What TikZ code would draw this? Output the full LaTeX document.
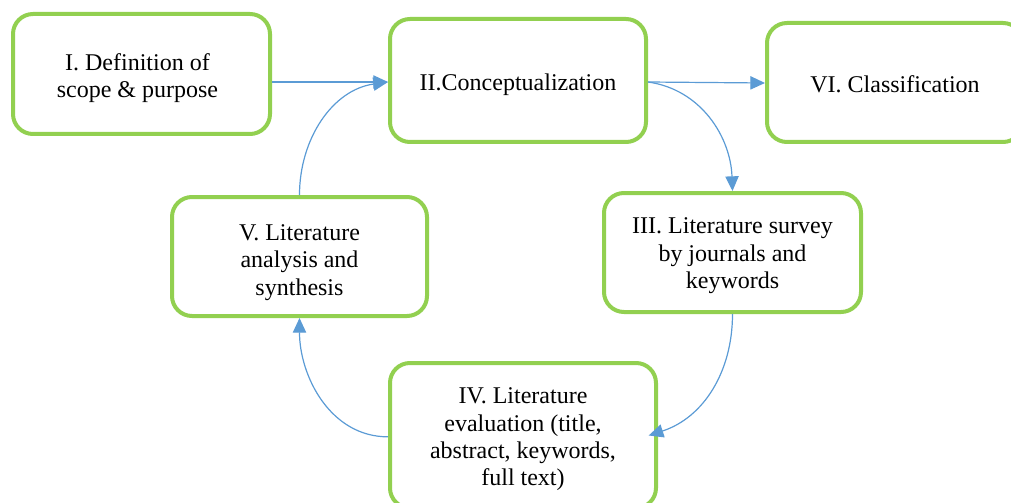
\documentclass[tikz,border=0pt]{standalone}
\usepackage{fontspec}
\setmainfont{Liberation Serif}
\usetikzlibrary{arrows.meta}
\definecolor{boxgreen}{HTML}{92D050}
\definecolor{arrowblue}{HTML}{5B9BD5}
\begin{document}
\begin{tikzpicture}[x=0.75pt,y=-0.75pt,
  stepbox/.style={draw=boxgreen, line width=3pt, rounded corners=15pt, fill=white, inner sep=0pt},
  steptext/.style={align=center, inner sep=0pt, font=\fontsize{18}{20.5}\selectfont},
  flow/.style={draw=arrowblue, line width=0.9pt, -{Triangle[length=11pt,width=10pt]}}]
\useasboundingbox (0,0) rectangle (1011,503);
\clip (0,0) rectangle (1011,503);
\node[stepbox, minimum width=192.75pt, minimum height=90pt] (I) at (141.5,74) {};
\node[stepbox, minimum width=192pt, minimum height=92.25pt] (II) at (518,80.5) {};
\node[stepbox, minimum width=192pt, minimum height=89.25pt] (VI) at (895,82.5) {};
\node[stepbox, minimum width=191.25pt, minimum height=89.25pt] (V) at (299.5,256.5) {};
\node[stepbox, minimum width=192.75pt, minimum height=89.25pt] (III) at (732.5,252.5) {};
\node[stepbox, minimum width=199.5pt, minimum height=108.75pt] (IV) at (523,435.5) {};
\node[steptext] (It) at ([xshift=-3pt,yshift=-3pt]I.center) {I. Definition of\\scope \& purpose};
\node[steptext] (IIt) at ([yshift=-3pt]II.center) {II.Conceptualization};
\node[steptext] (VIt) at ([yshift=-1pt]VI.center) {VI. Classification};
\node[steptext] (Vt) at ([yshift=-4.5pt]V.center) {V. Literature\\analysis and\\synthesis};
\node[steptext] (IIIt) at ([yshift=-2.5pt]III.center) {III. Literature survey\\by journals and\\keywords};
\node[steptext] (IVt) at ([yshift=-3pt]IV.center) {IV. Literature\\evaluation (title,\\abstract, keywords,\\full text)};
\draw[flow] (I.east |- 0,82) -- (II.west |- 0,82);
\draw[flow] (V.north) to[out=90,in=188] (II.west |- 0,82);
\draw[flow] (II.east |- 0,82) -- (VI.west |- 0,83);
\draw[flow] (II.east |- 0,82) to[out=-8,in=92] (III.north);
\draw[flow] (III.south) to[out=-90,in=18] ([xshift=-7pt]IV.east);
\draw[flow] ([yshift=-1pt]IV.west) to[out=180,in=-90] (V.south);
\end{tikzpicture}
\end{document}
